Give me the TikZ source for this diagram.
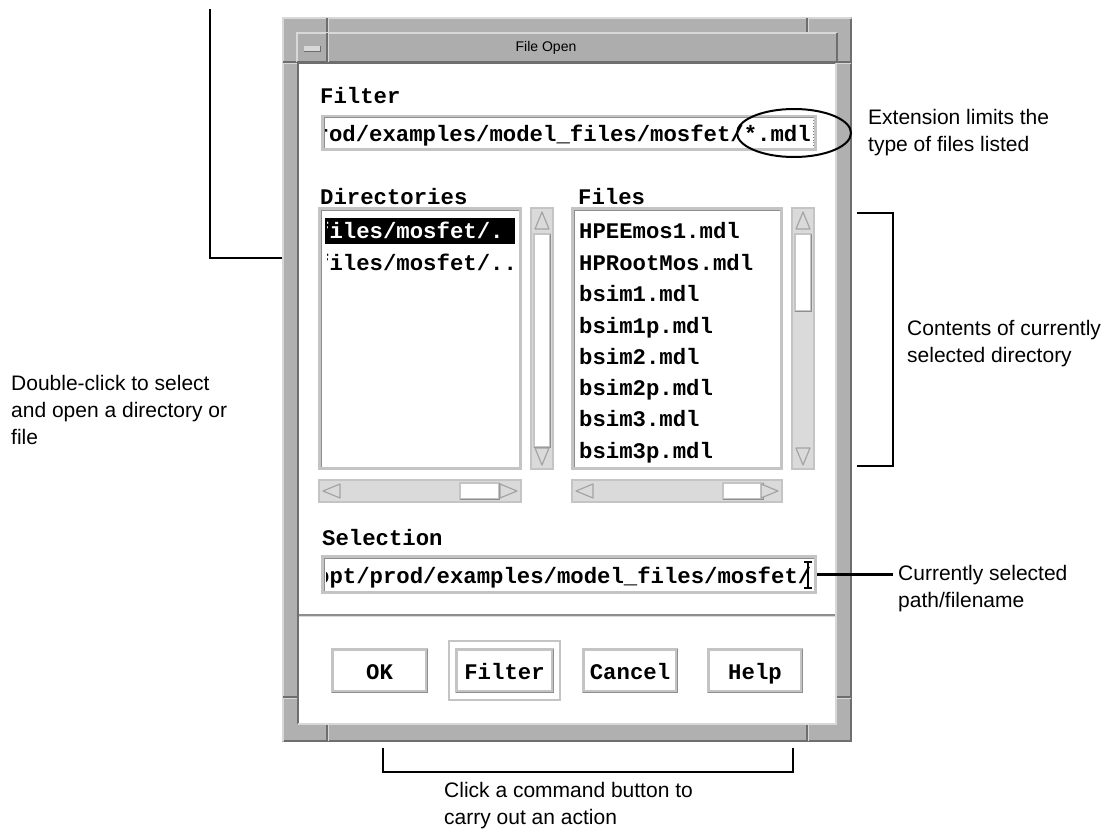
\documentclass[tikz,border=0pt]{standalone}
\usepackage{fontspec}
\setmainfont{Liberation Sans}
\newfontfamily\uimono{Liberation Mono}
\usetikzlibrary{shapes.geometric,fit}

\definecolor{frameGray}{HTML}{B0B0B0}
\definecolor{frameLight}{HTML}{D8D8D8}
\definecolor{frameDark}{HTML}{6E6E6E}
\definecolor{titleGray}{HTML}{ADADAD}
\definecolor{rimGray}{HTML}{C4C4C4}
\definecolor{rimDark}{HTML}{8E8E8E}
\definecolor{trough}{HTML}{DADADA}
\definecolor{arrowLine}{HTML}{A4A4A4}

\newcommand\notefont{\fontsize{21}{27}\selectfont}
\newcommand\uifont{\uimono\bfseries\fontsize{22.3}{24}\selectfont}
\newcommand\titlefont{\fontsize{14}{16}\selectfont}

% sunken white field: x1 y1 x2 y2
\newcommand\UISunken[4]{%
  \fill[white] (#1,#2) rectangle (#3,#4);
  \draw[rimGray, line width=3pt] ({#1+1.5},{#2+1.5}) rectangle ({#3-1.5},{#4-1.5});
  \draw[rimDark, line width=1pt] ({#1+3},{#4-3}) -- ({#1+3},{#2+3}) -- ({#3-3},{#2+3});
}
% raised push button: x1 y1 x2 y2
\newcommand\UIRaised[4]{%
  \fill[white] (#1,#2) rectangle (#3,#4);
  \draw[rimGray, line width=3pt] ({#1+1.5},{#2+1.5}) rectangle ({#3-1.5},{#4-1.5});
  \draw[rimDark, line width=1.2pt] ({#1+0.6},{#4-0.6}) -- ({#3-0.6},{#4-0.6}) -- ({#3-0.6},{#2+0.6});
}
% vertical scrollbar: x1 y1 x2 y2 thumb-top thumb-bottom
\newcommand\UIVScroll[6]{%
  \fill[trough] (#1,#2) rectangle (#3,#4);
  \draw[rimGray, line width=2pt] ({#1+1},{#2+1}) rectangle ({#3-1},{#4-1});
  \draw[arrowLine, fill=trough, line width=1.2pt, line join=round]
    ({(#1+#3)/2},{#2+5}) -- ({#3-5},{#2+22}) -- ({#1+5},{#2+22}) -- cycle;
  \fill[white] ({#1+4},#5) rectangle ({#3-4},#6);
  \draw[rimGray, line width=1.5pt] ({#1+4},#5) rectangle ({#3-4},#6);
  \draw[rimDark, line width=0.8pt] ({#1+4},#6) -- ({#3-4},#6) -- ({#3-4},#5);
  \draw[arrowLine, fill=trough, line width=1.2pt, line join=round]
    ({#1+5},{#4-22}) -- ({#3-5},{#4-22}) -- ({(#1+#3)/2},{#4-5}) -- cycle;
}
% horizontal scrollbar: x1 y1 x2 y2 thumb-left thumb-right
\newcommand\UIHScroll[6]{%
  \fill[trough] (#1,#2) rectangle (#3,#4);
  \draw[rimGray, line width=2pt] ({#1+1},{#2+1}) rectangle ({#3-1},{#4-1});
  \draw[arrowLine, fill=trough, line width=1.2pt, line join=round]
    ({#1+5},{(#2+#4)/2}) -- ({#1+22},{#2+5}) -- ({#1+22},{#4-5}) -- cycle;
  \fill[white] (#5,{#2+4}) rectangle (#6,{#4-4});
  \draw[rimGray, line width=1.5pt] (#5,{#2+4}) rectangle (#6,{#4-4});
  \draw[rimDark, line width=0.8pt] (#5,{#4-4}) -- (#6,{#4-4}) -- (#6,{#2+4});
  \draw[arrowLine, fill=trough, line width=1.2pt, line join=round]
    ({#3-5},{(#2+#4)/2}) -- ({#3-22},{#2+5}) -- ({#3-22},{#4-5}) -- cycle;
}

\begin{document}
\begin{tikzpicture}[x=1pt,y=-1pt,
  conn/.style={line width=2.8pt, black},
  % base anchor of a multi-line note sits on its last line
  note/.style={font=\notefont, align=left, inner sep=0pt, anchor=base west},
  uitext/.style={font=\uifont, inner sep=0pt, anchor=base west},
  btntext/.style={font=\uifont, inner sep=0pt, anchor=base},
  area/.style={inner sep=0pt},
  tickdark/.style={frameDark, line width=1.2pt},
  ticklight/.style={frameLight, line width=1.2pt},
]
\fill[white] (0,0) rectangle (1113,832);
\useasboundingbox (0,0) rectangle (1113,832);

% ---- window frame ----
\node[area, fit={(282,17) (852,742)}, fill=frameGray] (win) {};
\draw[frameLight, line width=2pt] (283,741) -- (283,18) -- (851,18);
\draw[frameDark, line width=2pt] (284,741) -- (851,741) -- (851,19);

% resize-corner marks in the frame
\draw[tickdark] (327,18) -- (327,33)  (807,18) -- (807,33)
                (327,724) -- (327,741) (807,724) -- (807,741)
                (283,62) -- (297,62)  (837,62) -- (851,62)
                (283,697) -- (297,697) (837,697) -- (851,697);
\draw[ticklight] (328.5,18) -- (328.5,33) (808.5,18) -- (808.5,33)
                 (328.5,724) -- (328.5,741) (808.5,724) -- (808.5,741)
                 (283,63.5) -- (297,63.5) (837,63.5) -- (851,63.5)
                 (283,698.5) -- (297,698.5) (837,698.5) -- (851,698.5);

% ---- title bar ----
\node[area, fit={(297,33) (837,62)}, fill=titleGray] (titlebar) {};
\draw[frameLight, line width=1.2pt] (297,62) -- (297,33) -- (837,33);
\draw[frameDark, line width=1.2pt] (297,62) -- (837,62) -- (837,33);
\draw[frameDark, line width=1.2pt] (327,33) -- (327,62);
\draw[frameLight, line width=1.2pt] (328.5,33) -- (328.5,62);
\node[area, fit={(304,46) (320,51)}, fill=frameLight] (minbtn) {};
\draw[frameDark, line width=0.8pt] (304,51) -- (320,51) -- (320,46);
\node[font=\titlefont, inner sep=0pt] (title) at (546,48) {File Open};

% ---- client area ----
\node[area, fit={(298,63) (836,724)}, fill=white] (client) {};
\draw[frameDark, line width=1.5pt] (298,724) -- (298,63) -- (836,63);
\draw[frameLight, line width=1.5pt] (298,724) -- (836,724) -- (836,63);

% ---- filter ----
\node[uitext] (filterlbl) at (320,104) {Filter};
\UISunken{321}{115}{817}{151}
\node[area, fit={(321,115) (817,151)}] (filterfield) {};
\begin{scope}
  \clip (325,118) rectangle (814,148);
  \node[uitext, anchor=base east] (filtertext) at (811,141) {prod/examples/model\_files/mosfet/*.mdl};
\end{scope}
\draw[gray, dotted, line width=0.8pt] (813.5,120) -- (813.5,147);

% ---- directories ----
\node[uitext] (dirlbl) at (320,204) {Directories};
\UISunken{318}{207}{522}{470}
\node[area, fit={(318,207) (522,470)}] (dirlist) {};
\node[area, fit={(325,218) (515,244)}, fill=black] (dirsel) {};
\begin{scope}
  \clip (327.5,212) rectangle (518,466);
  \node[uitext, text=white] (dir1) at (316,238) {files/mosfet/.};
  \node[uitext] (dir2) at (316,270) {files/mosfet/..};
\end{scope}
\UIVScroll{530}{207}{554}{470}{234}{447}
\node[area, fit={(530,207) (554,470)}] (dirvscroll) {};
\UIHScroll{318}{479}{522}{503}{460}{499}
\node[area, fit={(318,479) (522,503)}] (dirhscroll) {};

% ---- files ----
\node[uitext] (fileslbl) at (578,204) {Files};
\UISunken{571}{207}{783}{470}
\node[area, fit={(571,207) (783,470)}] (filelist) {};
\node[uitext] (f1) at (579,238) {HPEEmos1.mdl};
\node[uitext] (f2) at (579,270) {HPRootMos.mdl};
\node[uitext] (f3) at (579,301) {bsim1.mdl};
\node[uitext] (f4) at (579,333) {bsim1p.mdl};
\node[uitext] (f5) at (579,364) {bsim2.mdl};
\node[uitext] (f6) at (579,395) {bsim2p.mdl};
\node[uitext] (f7) at (579,426) {bsim3.mdl};
\node[uitext] (f8) at (579,458) {bsim3p.mdl};
\UIVScroll{791}{207}{815}{470}{234}{311}
\node[area, fit={(791,207) (815,470)}] (filevscroll) {};
\UIHScroll{571}{479}{783}{503}{723}{763}
\node[area, fit={(571,479) (783,503)}] (filehscroll) {};

% ---- selection ----
\node[uitext] (sellbl) at (322,545) {Selection};
\UISunken{321}{555}{817}{594}
\node[area, fit={(321,555) (817,594)}] (selfield) {};
\begin{scope}
  \clip (326,558) rectangle (814,591);
  \node[uitext] (seltext) at (316,583) {opt/prod/examples/model\_files/mosfet/};
\end{scope}
\draw[black, line width=1.4pt] (808,562) -- (808,588) (804,562) -- (812,562) (804,588) -- (812,588);

% separator above the buttons
\draw[rimDark, line width=1.2pt] (299,615) -- (835,615);
\draw[frameLight, line width=1.2pt] (299,616.5) -- (835,616.5);

% ---- buttons ----
\UIRaised{331}{648}{428}{693}
\node[area, fit={(331,648) (428,693)}] (okbtn) {};
\node[btntext] (oklbl) at (379.5,679) {OK};
\draw[rimGray, line width=1.5pt] (449,641) rectangle (560,700);
\node[area, fit={(449,641) (560,700)}] (filterring) {};
\UIRaised{455}{648}{554}{693}
\node[area, fit={(455,648) (554,693)}] (filterbtn) {};
\node[btntext] (filterbtnlbl) at (504.5,679) {Filter};
\UIRaised{582}{648}{678}{693}
\node[area, fit={(582,648) (678,693)}] (cancelbtn) {};
\node[btntext] (cancellbl) at (630,679) {Cancel};
\UIRaised{707}{648}{803}{693}
\node[area, fit={(707,648) (803,693)}] (helpbtn) {};
\node[btntext] (helplbl) at (755,679) {Help};

% ---- callouts ----
\node[draw, ellipse, line width=2pt, minimum width=114pt, minimum height=48pt, inner sep=0pt] (extmark) at (794,133) {};
\node[note] (extnote) at (868,151) {Extension limits the\\type of files listed};

\coordinate (dirlead) at (210,9);
\coordinate (dirhook) at (0,258);
\draw[conn] (dirlead) |- (win.west |- dirhook);
\node[note] (dirnote) at (11,444) {Double-click to select\\and open a directory or\\file};

\coordinate (brTop) at (857,213);
\coordinate (brTopR) at (893,213);
\coordinate (brBotR) at (893,466);
\coordinate (brBot) at (857,466);
\draw[conn] (brTop) -- (brTopR) -- (brBotR) -- (brBot);
\node[note] (filesnote) at (907,362) {Contents of currently\\selected directory};

\node[note] (selnote) at (898,607) {Currently selected\\path/filename};
\draw[conn] (selfield.east) -- ([xshift=-5pt]selnote.west |- selfield.east);

\coordinate (cbL) at (383,748);
\coordinate (cbLB) at (383,772);
\coordinate (cbRB) at (793,772);
\coordinate (cbR) at (793,748);
\draw[conn] (cbL) -- (cbLB) -- (cbRB) -- (cbR);
\node[note] (btnnote) at (444,824) {Click a command button to\\carry out an action};
\end{tikzpicture}
\end{document}
